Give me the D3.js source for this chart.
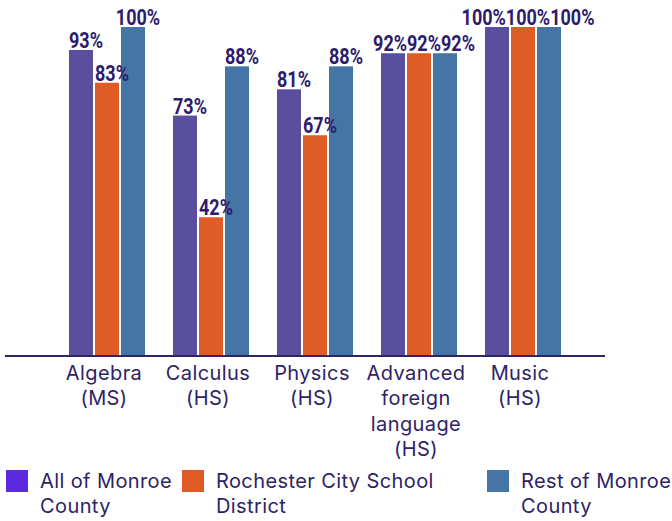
<!DOCTYPE html>
<html><head><meta charset="utf-8">
<script src="https://cdn.jsdelivr.net/npm/d3@7"></script>
<style>
html,body{margin:0;padding:0;background:#fff;}
svg{display:block;}
</style></head>
<body>
<svg id="chart" width="672" height="521"></svg>
<script>
const categories = [["Algebra","(MS)"],["Calculus","(HS)"],["Physics","(HS)"],["Advanced","foreign","language","(HS)"],["Music","(HS)"]];
const seriesNames = [["All of Monroe","County"],["Rochester City School","District"],["Rest of Monroe","County"]];
const allMonroe = [93,73,81,92,100];
const rochester = [83,42,67,92,100];
const restMonroe = [100,88,88,92,100];
const series = [allMonroe, rochester, restMonroe];
const barColors = ["#5a4f9f","#e05c27","#4475a5"];
const legendColors = ["#5b2ae0","#e05a26","#4475a5"];
const legendX = [6,182,487];

const svg = d3.select("#chart");
const baseY = 355, topY = 27;
const x = d3.scaleBand().domain(d3.range(categories.length)).range([55,575]).paddingInner(28/104).paddingOuter(14/104);
const xs = d3.scaleBand().domain(d3.range(series.length)).range([0,x.bandwidth()]).paddingInner(2/26);
const y = d3.scaleLinear().domain([0,100]).range([baseY,topY]);

const g = svg.append("g");
series.forEach((vals,si)=>{
  g.selectAll(null).data(vals).enter().append("rect")
    .attr("x",(d,i)=>x(i)+xs(si)).attr("width",xs.bandwidth())
    .attr("y",d=>y(d)).attr("height",d=>baseY-y(d))
    .attr("fill",barColors[si]);
});

// axis line
svg.append("line").attr("x1",5).attr("x2",605).attr("y1",356).attr("y2",356)
  .attr("stroke","#2e2466").attr("stroke-width",2);

// value labels with simple collision spreading
const sx = 0.8;
const labelGroups = categories.map((c,ci)=>series.map((vals,si)=>({ci,si,v:vals[ci]})));
labelGroups.forEach(group=>{
  const texts = group.map(d=>{
    const cx = x(d.ci)+xs(d.si)+xs.bandwidth()/2+5;
    const t = svg.append("text").text(d.v+"%")
      .attr("text-anchor","middle")
      .attr("font-family","Roboto, sans-serif").attr("font-weight",700)
      .attr("font-size",22.5).attr("fill","#2f1b6b");
    return {t,cx,yy:y(d.v),w:t.node().getComputedTextLength()*sx};
  });
  for(let iter=0;iter<20;iter++){
    for(let i=0;i<texts.length-1;i++){
      const a=texts[i], b=texts[i+1];
      if(Math.abs(a.yy-b.yy)<16){
        const ov = (a.cx+a.w/2)-(b.cx-b.w/2);
        if(ov>0.1){
          if(i===0){a.cx-=ov;} else {b.cx+=ov;}
        }
      }
    }
  }
  texts.forEach(o=>o.t.attr("transform",`translate(${o.cx},${o.yy-2}) scale(${sx},1)`));
});

// category labels
categories.forEach((lines,ci)=>{
  const t = svg.append("text").attr("text-anchor","middle")
    .attr("font-family","Inter, sans-serif").attr("font-size",20).attr("letter-spacing",0.4).attr("fill","#2d2366");
  lines.forEach((ln,li)=>{
    t.append("tspan").attr("x",x(ci)+x.bandwidth()/2-3).attr("y",380+li*25.3).text(ln);
  });
});

// legend
seriesNames.forEach((lines,si)=>{
  svg.append("rect").attr("x",legendX[si]).attr("y",470).attr("width",22).attr("height",22).attr("fill",legendColors[si]);
  const t = svg.append("text").attr("font-family","Inter, sans-serif").attr("font-size",20).attr("letter-spacing",0.4).attr("fill","#2d2366");
  lines.forEach((ln,li)=>{
    t.append("tspan").attr("x",legendX[si]+34).attr("y",488+li*25).text(ln);
  });
});
</script>
</body></html>
